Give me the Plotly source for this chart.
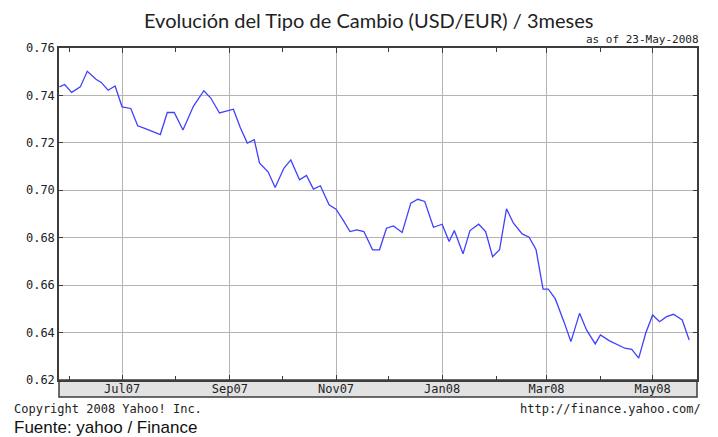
import plotly.graph_objects as go

dates = [
    "2007-05-26", "2007-05-29", "2007-06-02", "2007-06-07", "2007-06-11", "2007-06-16",
    "2007-06-19", "2007-06-23", "2007-06-27", "2007-07-01", "2007-07-06", "2007-07-10",
    "2007-07-14", "2007-07-18", "2007-07-23", "2007-07-27", "2007-07-31", "2007-08-05",
    "2007-08-11", "2007-08-17", "2007-08-21", "2007-08-26", "2007-08-30", "2007-09-03",
    "2007-09-07", "2007-09-11", "2007-09-15", "2007-09-18", "2007-09-23", "2007-09-27",
    "2007-10-02", "2007-10-06", "2007-10-11", "2007-10-15", "2007-10-19", "2007-10-23",
    "2007-10-28", "2007-11-01", "2007-11-05", "2007-11-09", "2007-11-13", "2007-11-17",
    "2007-11-22", "2007-11-26", "2007-11-30", "2007-12-04", "2007-12-09", "2007-12-14",
    "2007-12-18", "2007-12-22", "2007-12-27", "2008-01-01", "2008-01-05", "2008-01-08",
    "2008-01-13", "2008-01-17", "2008-01-22", "2008-01-26", "2008-01-30", "2008-02-03",
    "2008-02-07", "2008-02-11", "2008-02-16", "2008-02-20", "2008-02-24", "2008-02-28",
    "2008-03-02", "2008-03-06", "2008-03-11", "2008-03-15", "2008-03-20", "2008-03-24",
    "2008-03-29", "2008-04-01", "2008-04-06", "2008-04-10", "2008-04-15", "2008-04-19",
    "2008-04-23", "2008-04-27", "2008-05-01", "2008-05-05", "2008-05-09", "2008-05-13",
    "2008-05-18", "2008-05-22",
]
usd_eur = [
    0.7436, 0.7446, 0.7413, 0.7436, 0.7502, 0.7468,
    0.7455, 0.7422, 0.7440, 0.7352, 0.7345, 0.7272,
    0.7261, 0.7250, 0.7235, 0.7328, 0.7328, 0.7254,
    0.7354, 0.7420, 0.7389, 0.7326, 0.7333, 0.7342,
    0.7264, 0.7199, 0.7213, 0.7115, 0.7077, 0.7012,
    0.7093, 0.7128, 0.7044, 0.7063, 0.7005, 0.7019,
    0.6939, 0.6920, 0.6875, 0.6826, 0.6833, 0.6826,
    0.6749, 0.6749, 0.6840, 0.6850, 0.6822, 0.6946,
    0.6962, 0.6953, 0.6844, 0.6857, 0.6784, 0.6830,
    0.6732, 0.6830, 0.6857, 0.6826, 0.6720, 0.6749,
    0.6922, 0.6861, 0.6816, 0.6802, 0.6749, 0.6583,
    0.6583, 0.6543, 0.6446, 0.6362, 0.6481, 0.6411,
    0.6352, 0.6390, 0.6366, 0.6352, 0.6334, 0.6329,
    0.6292, 0.6397, 0.6474, 0.6446, 0.6467, 0.6477,
    0.6453, 0.6369,
]

title_text = "Evolución del Tipo de Cambio (USD/EUR) / 3meses"
asof_text = "as of 23-May-2008"
copyright_text = "Copyright 2008 Yahoo! Inc."
url_text = "http://finance.yahoo.com/"
source_text = "Fuente: yahoo / Finance"

MONO = "DejaVu Sans Mono"
FRAME = "#3c3c3c"
GRID = "#b4b4b4"

fig = go.Figure()
fig.add_trace(go.Scatter(
    x=dates, y=usd_eur, mode="lines",
    line=dict(color="#4040ff", width=1.3),
    hoverinfo="skip", showlegend=False,
))

# the page body has an 8px default margin, so the figure is 8px smaller
plot_h = 380 - 48
band = 17 / plot_h

fig.update_layout(
    width=710, height=429,
    margin=dict(l=51, r=21, t=40, b=57, pad=0, autoexpand=False),
    paper_bgcolor="white", plot_bgcolor="white",
    showlegend=False,
    xaxis=dict(
        type="date", automargin=False,
        range=["2007-05-25 18:00", "2008-05-26 12:00"],
        tick0="2007-07-01", dtick="M2", tickformat="%b%y",
        ticks="inside", ticklen=5, tickcolor=FRAME, tickwidth=1,
        ticklabelstandoff=-3,
        showgrid=True, gridcolor=GRID, gridwidth=1.2,
        showline=True, linecolor=FRAME, linewidth=1.5, mirror="ticks",
        minor=dict(dtick="M1", tick0="2007-06-01", ticks="inside", ticklen=4,
                   tickcolor=FRAME, showgrid=False),
        tickfont=dict(family=MONO, size=12, color="#222"),
        zeroline=False, fixedrange=True,
    ),
    yaxis=dict(
        automargin=False,
        range=[0.62, 0.76], dtick=0.02, tick0=0.62, tickformat=".2f",
        ticks="inside", ticklen=4, tickcolor=FRAME, tickwidth=1,
        showgrid=True, gridcolor=GRID, gridwidth=1.2,
        showline=True, linecolor=FRAME, linewidth=1.5, mirror="ticks",
        tickfont=dict(family=MONO, size=12, color="#222"),
        zeroline=False, fixedrange=True,
    ),
    shapes=[dict(
        type="rect", xref="paper", yref="paper",
        x0=0, x1=1, y0=-band, y1=0,
        fillcolor="#e2e2e2", line=dict(color=FRAME, width=1.5), layer="below",
    )],
    annotations=[
        dict(text=title_text, xref="paper", yref="paper",
             x=(368 - 59) / 638, y=(380 - 20) / plot_h, xanchor="center", yanchor="middle",
             showarrow=False, font=dict(family="Lato", size=20, color="#222")),
        dict(text=asof_text, xref="paper", yref="paper",
             x=(701 - 59) / 638, y=(380 - 39) / plot_h, xanchor="right", yanchor="middle",
             showarrow=False, font=dict(family=MONO, size=11, color="#222")),
        dict(text=copyright_text, xref="paper", yref="paper",
             x=(12 - 59) / 638, y=(380 - 409) / plot_h, xanchor="left", yanchor="middle",
             showarrow=False, font=dict(family=MONO, size=12, color="#222")),
        dict(text=url_text, xref="paper", yref="paper",
             x=(703 - 59) / 638, y=(380 - 409) / plot_h, xanchor="right", yanchor="middle",
             showarrow=False, font=dict(family=MONO, size=12, color="#222")),
        dict(text=source_text, xref="paper", yref="paper",
             x=(12 - 59) / 638, y=(380 - 427) / plot_h, xanchor="left", yanchor="middle",
             showarrow=False, font=dict(family="Liberation Sans", size=17, color="#111")),
    ],
)

fig.write_html("out.html")
